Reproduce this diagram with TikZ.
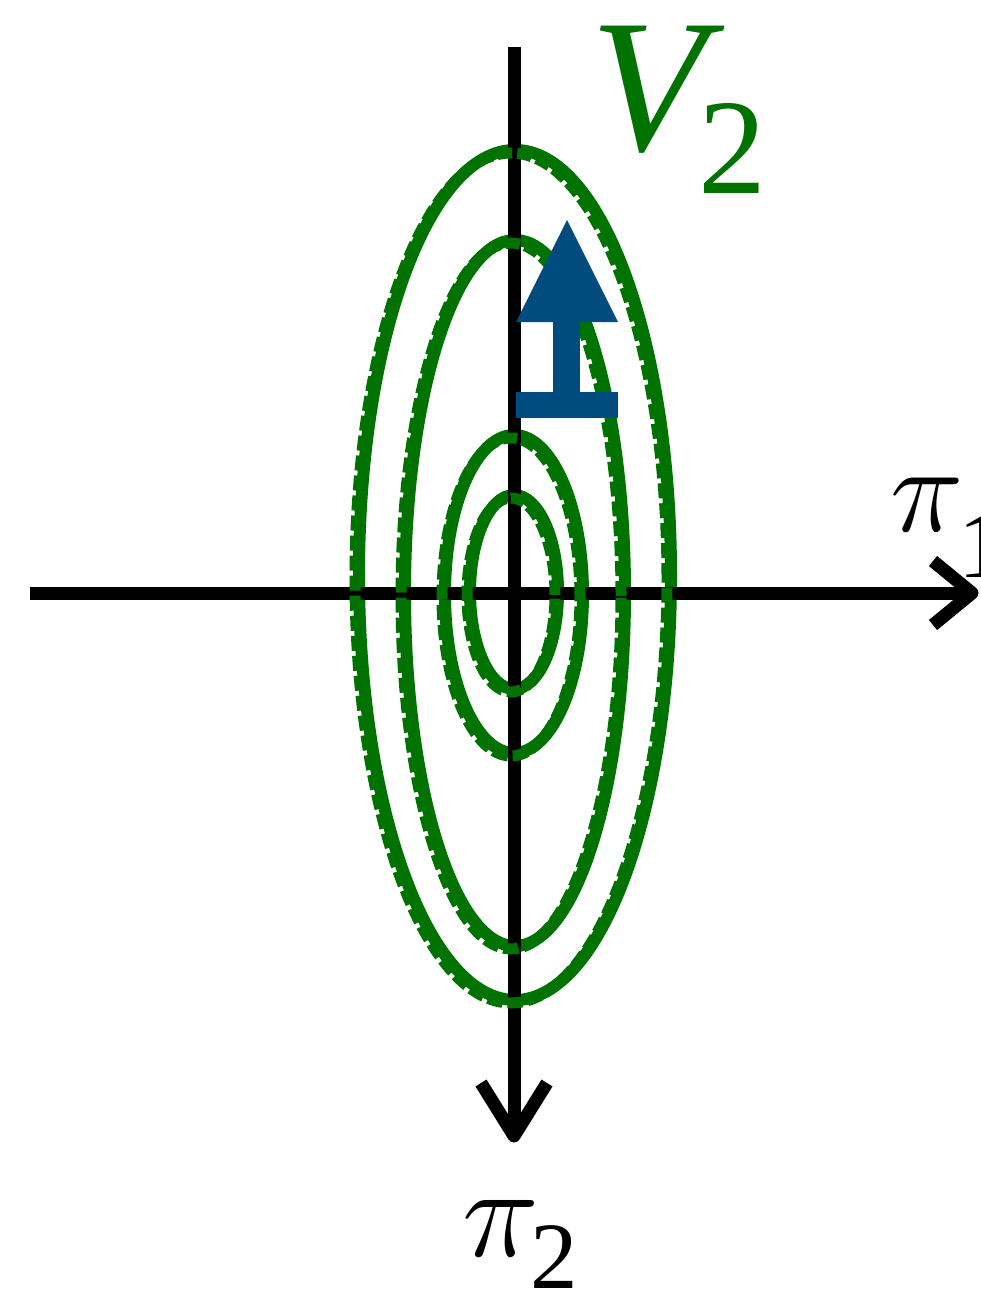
\RequirePackage{fix-cm}
\documentclass[tikz,border=0pt]{standalone}
\usepackage{fontspec}
\setmainfont{Liberation Serif}
\definecolor{vgreen}{RGB}{0,114,0}
\definecolor{vblue}{RGB}{0,76,127}
\begin{document}
\begin{tikzpicture}[x=1pt,y=-1pt,
  axisline/.style={line width=13pt,black},
  chevron/.style={line width=13pt,black,line join=round},
  solidell/.style={draw=vgreen,line width=12pt},
  dashell/.style={draw=vgreen,line width=11pt,dash pattern=on 15pt off 5pt},
  lab/.style={inner sep=0pt,outer sep=0pt,anchor=base west}]
\useasboundingbox (0,0) rectangle (980,1290);
% contour centres
\coordinate (c1) at (515,575);
\coordinate (c2) at (515,593);
\coordinate (c3) at (514,594);
\coordinate (c4) at (514,592);
% centres of the offset dashed copies
\coordinate (d1) at (511,578);
\coordinate (d2) at (511,596);
\coordinate (d3) at (511,597);
\coordinate (d4) at (511,595);
% solid contours
\draw[solidell] (c1) ellipse [x radius=156pt, y radius=425pt];
\draw[solidell] (c2) ellipse [x radius=110pt, y radius=353pt];
\draw[solidell] (c3) ellipse [x radius=69pt, y radius=159pt];
\draw[solidell] (c4) ellipse [x radius=44pt, y radius=97pt];
% axes
\coordinate (hl) at (30,593);
\coordinate (hr) at (972,593);
\coordinate (vt) at (514,47);
\coordinate (vb) at (514,1136);
\draw[axisline] (hl) -- (hr);
\draw[axisline] (vt) -- (vb);
% dashed contours (slightly offset)
\draw[dashell] (d1) ellipse [x radius=156pt, y radius=425pt];
\draw[dashell] (d2) ellipse [x radius=110pt, y radius=353pt];
\draw[dashell] (d3) ellipse [x radius=69pt, y radius=159pt];
\draw[dashell] (d4) ellipse [x radius=44pt, y radius=97pt];
% labels
\node[lab,text=vgreen,font=\fontsize{190}{190}\selectfont\itshape] (V) at (590,150) {V};
\node[lab,text=vgreen,font=\fontsize{136}{136}\selectfont] (Vs) at (698,193) {2};
\node[lab,font=\fontsize{130}{130}\selectfont] (p2) at (462,1256) {$\pi$};
\node[lab,font=\fontsize{95}{95}\selectfont] (p2s) at (530,1288) {2};
\node[lab,font=\fontsize{124}{124}\selectfont] (p1) at (890,531) {$\pi$};
\node[lab,font=\fontsize{95}{95}\selectfont] (p1s) at (958,577) {1};
% arrow heads of axes
\coordinate (ha1) at (933,561);
\coordinate (ha2) at (933,625);
\coordinate (hb1) at (481,1083);
\coordinate (hb2) at (547,1083);
\draw[chevron] (ha1) -- (hr) -- (ha2);
\draw[chevron] (hb1) -- (vb) -- (hb2);
% blue arrow
\coordinate (at) at (567,220);
\coordinate (ar) at (618,322);
\coordinate (al) at (516,322);
\fill[vblue] (at) -- (ar) -- (al) -- cycle;
\fill[vblue] (553,320) rectangle (580,394);
\fill[vblue] (516,392) rectangle (618,418);
\end{tikzpicture}
\end{document}
